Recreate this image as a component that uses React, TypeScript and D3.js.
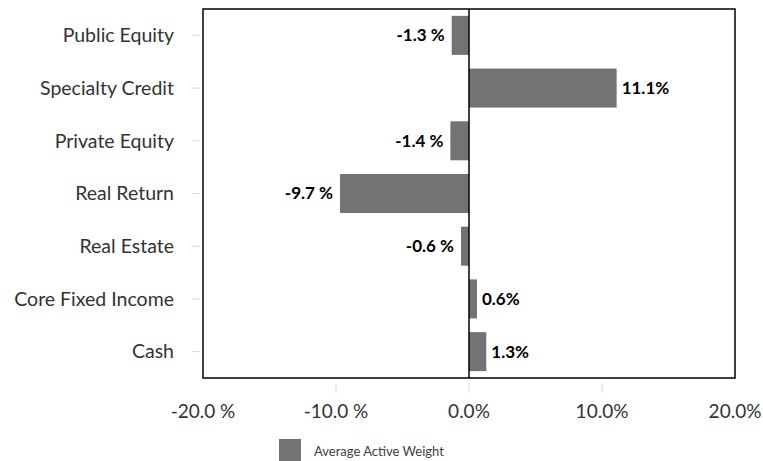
import React, { useEffect, useRef } from 'react';
import * as d3 from 'd3';

const categories = ['Public Equity', 'Specialty Credit', 'Private Equity', 'Real Return', 'Real Estate', 'Core Fixed Income', 'Cash'];
const activeWeight = [-1.3, 11.1, -1.4, -9.7, -0.6, 0.6, 1.3];
const xTicks = [-20, -10, 0, 10, 20];
const seriesName = 'Average Active Weight';

const W = 763;
const H = 461;
const FONT = 'Lato, "Open Sans", sans-serif';

const fmtTick = (v: number) => (v < 0 ? `${v.toFixed(1)} %` : `${v.toFixed(1)}%`);
const fmtVal = (v: number) => (v < 0 ? `${v.toFixed(1)} %` : `${v.toFixed(1)}%`);

const App: React.FC = () => {
  const svgRef = useRef<SVGSVGElement>(null);

  useEffect(() => {
    if (!svgRef.current) return;
    const svg = d3.select(svgRef.current);
    svg.selectAll('*').remove();

    const left = 203, right = 735, top = 9, bottom = 378;

    const x = d3.scaleLinear().domain([-20, 20]).range([left, right]);
    const y = d3.scaleBand().domain(categories).range([top, bottom]).paddingInner(0.26).paddingOuter(0.13);

    // frame
    svg.append('rect')
      .attr('x', left).attr('y', top)
      .attr('width', right - left).attr('height', bottom - top)
      .attr('fill', 'none').attr('stroke', '#000').attr('stroke-width', 1.5);

    // category ticks + labels
    const cat = svg.append('g');
    categories.forEach((c) => {
      const cy = (y(c) ?? 0) + y.bandwidth() / 2;
      cat.append('line')
        .attr('x1', 192).attr('x2', 200).attr('y1', cy).attr('y2', cy)
        .attr('stroke', '#d9d9d9').attr('stroke-width', 1);
      cat.append('text')
        .attr('x', 174).attr('y', cy).attr('dy', '0.35em')
        .attr('text-anchor', 'end')
        .style('font-family', FONT).style('font-size', '19.5px').style('font-weight', 400)
        .style('fill', '#333333')
        .text(c);
    });

    // x ticks + labels
    xTicks.forEach((t) => {
      if (t > -20 && t < 20) {
        svg.append('line')
          .attr('x1', x(t)).attr('x2', x(t)).attr('y1', 383).attr('y2', 393)
          .attr('stroke', '#d9d9d9').attr('stroke-width', 1);
      }
      svg.append('text')
        .attr('x', x(t)).attr('y', 418)
        .attr('text-anchor', 'middle')
        .style('font-family', FONT).style('font-size', '19px').style('font-weight', 400)
        .style('fill', '#333333')
        .text(fmtTick(t));
    });

    // bars
    const data = categories.map((c, i) => ({ c, v: activeWeight[i] }));
    svg.append('g').selectAll('rect').data(data).join('rect')
      .attr('x', (d) => x(Math.min(0, d.v)))
      .attr('y', (d) => y(d.c) ?? 0)
      .attr('width', (d) => Math.abs(x(d.v) - x(0)))
      .attr('height', y.bandwidth())
      .attr('fill', '#737373');

    // zero line
    svg.append('line')
      .attr('x1', x(0)).attr('x2', x(0)).attr('y1', top).attr('y2', bottom)
      .attr('stroke', '#000').attr('stroke-width', 1.5);

    // value labels
    svg.append('g').selectAll('text').data(data).join('text')
      .attr('x', (d) => (d.v < 0 ? x(d.v) - 7 : x(d.v) + 5))
      .attr('y', (d) => (y(d.c) ?? 0) + y.bandwidth() / 2)
      .attr('dy', '0.35em')
      .attr('text-anchor', (d) => (d.v < 0 ? 'end' : 'start'))
      .style('font-family', FONT).style('font-size', '17px').style('font-weight', 700)
      .style('fill', '#000')
      .text((d) => fmtVal(d.v));

    // legend
    svg.append('rect')
      .attr('x', 279).attr('y', 439).attr('width', 22).attr('height', 22)
      .attr('fill', '#737373');
    svg.append('text')
      .attr('x', 314).attr('y', 451).attr('dy', '0.35em')
      .style('font-family', FONT).style('font-size', '13px').style('font-weight', 400)
      .style('fill', '#404040')
      .text(seriesName);
  }, []);

  return (
    <svg
      ref={svgRef}
      width={W}
      height={H}
      style={{ position: 'absolute', left: 0, top: 0, background: '#fff' }}
    />
  );
};

export default App;
